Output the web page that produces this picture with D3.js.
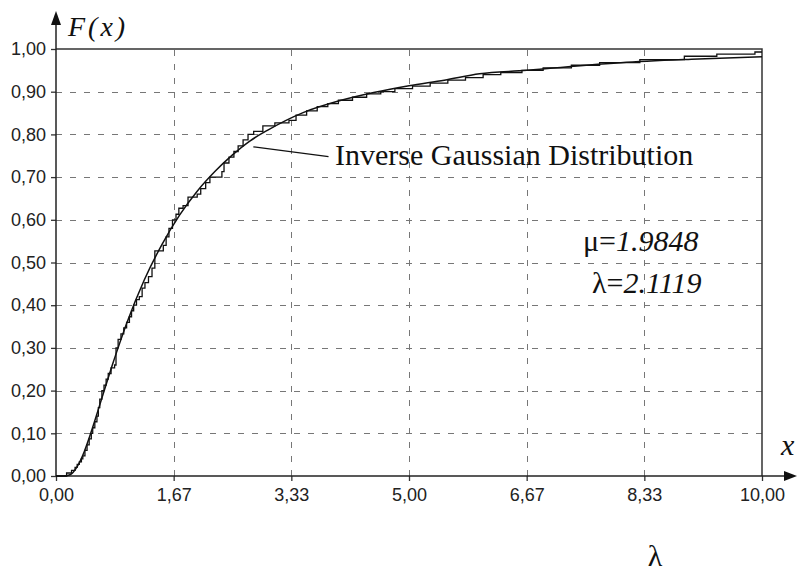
<!DOCTYPE html>
<html>
<head>
<meta charset="utf-8">
<script src="https://cdn.jsdelivr.net/npm/d3@7"></script>
<style>
  body { margin: 0; background: #fff; }
  svg { display: block; }
</style>
</head>
<body>
<svg width="798" height="578"></svg>
<script>
// fitted inverse gaussian cdf
var fitX = [0, 0.1, 0.2, 0.3, 0.4, 0.5, 0.6, 0.7, 0.8, 0.9, 1.0, 1.25, 1.5, 1.75, 2.0, 2.25, 2.5, 2.75, 3.0, 3.5, 4.0, 4.5, 5.0, 5.5, 6.0, 6.67, 7.0, 8.0, 9.0, 10.0];
var fitF = [0, 0.000, 0.003, 0.022, 0.057, 0.104, 0.156, 0.209, 0.261, 0.310, 0.357, 0.459, 0.542, 0.611, 0.667, 0.713, 0.752, 0.785, 0.810, 0.851, 0.878, 0.898, 0.914, 0.927, 0.942, 0.950, 0.955, 0.968, 0.976, 0.982];

// empirical cdf: where it jumps and the level after the jump
var stepX = [0.15, 0.22, 0.27, 0.30, 0.33, 0.36, 0.38, 0.41, 0.44, 0.47, 0.50, 0.52, 0.55, 0.58, 0.60, 0.62, 0.65, 0.68, 0.71, 0.74, 0.78, 0.83, 0.85, 0.88, 0.92, 0.96, 1.00, 1.04, 1.07, 1.10, 1.14, 1.18, 1.22, 1.26, 1.31, 1.36, 1.40, 1.52, 1.56, 1.60, 1.65, 1.70, 1.74, 1.80, 1.87, 2.00, 2.05, 2.12, 2.18, 2.35, 2.38, 2.45, 2.52, 2.58, 2.65, 2.72, 2.80, 2.93, 3.10, 3.30, 3.40, 3.55, 3.70, 3.85, 4.00, 4.20, 4.40, 4.60, 4.80, 5.05, 5.30, 5.55, 5.80, 6.05, 6.30, 6.60, 6.90, 7.30, 7.70, 8.27, 8.90, 9.36, 9.90];
var stepF = [0.007, 0.013, 0.020, 0.027, 0.033, 0.040, 0.047, 0.060, 0.073, 0.087, 0.100, 0.113, 0.127, 0.140, 0.160, 0.180, 0.200, 0.213, 0.227, 0.240, 0.253, 0.260, 0.300, 0.320, 0.333, 0.347, 0.360, 0.373, 0.387, 0.400, 0.413, 0.420, 0.440, 0.453, 0.467, 0.487, 0.527, 0.540, 0.560, 0.580, 0.600, 0.613, 0.627, 0.633, 0.653, 0.660, 0.673, 0.687, 0.700, 0.713, 0.733, 0.747, 0.760, 0.773, 0.787, 0.800, 0.807, 0.820, 0.827, 0.833, 0.845, 0.855, 0.865, 0.872, 0.880, 0.887, 0.895, 0.900, 0.907, 0.913, 0.920, 0.927, 0.933, 0.940, 0.945, 0.950, 0.956, 0.962, 0.968, 0.975, 0.983, 0.988, 0.993];

var xTicks = [0, 1.6667, 3.3333, 5, 6.6667, 8.3333, 10];
var yTicks = [0, 0.1, 0.2, 0.3, 0.4, 0.5, 0.6, 0.7, 0.8, 0.9, 1.0];

var svg = d3.select("svg");

var x = d3.scaleLinear().domain([0, 10]).range([56, 762]);
var y = d3.scaleLinear().domain([0, 1]).range([476, 49]);

// decimal comma like the original
var fmt = d3.formatLocale({decimal: ",", thousands: ".", grouping: [3], currency: ["", ""]}).format(".2f");

var tickFont = "'Liberation Sans', Arial, sans-serif";
var serif = "'Liberation Serif', 'Times New Roman', serif";

// dashed grid
svg.append("g").selectAll("line")
  .data(yTicks.filter(function(d) { return d > 0 && d < 1; }))
  .join("line")
  .attr("x1", x(0)).attr("x2", x(10))
  .attr("y1", function(d) { return Math.round(y(d)) + 0.5; })
  .attr("y2", function(d) { return Math.round(y(d)) + 0.5; })
  .attr("stroke", "#777").attr("stroke-width", 1).attr("stroke-dasharray", "6,8");

svg.append("g").selectAll("line")
  .data(xTicks.filter(function(d) { return d > 0 && d < 10; }))
  .join("line")
  .attr("y1", y(0)).attr("y2", y(1))
  .attr("x1", function(d) { return Math.round(x(d)) + 0.5; })
  .attr("x2", function(d) { return Math.round(x(d)) + 0.5; })
  .attr("stroke", "#777").attr("stroke-width", 1).attr("stroke-dasharray", "6,8");

// top and right frame
svg.append("path")
  .attr("d", "M" + x(0) + "," + y(1) + "H" + x(10) + "V" + y(0))
  .attr("fill", "none").attr("stroke", "#333").attr("stroke-width", 1.5);

// axes
var xAxis = svg.append("g")
  .attr("transform", "translate(0," + y(0) + ")")
  .call(d3.axisBottom(x).tickValues(xTicks).tickFormat(fmt).tickSize(5).tickSizeOuter(0).tickPadding(7));
var yAxis = svg.append("g")
  .attr("transform", "translate(" + x(0) + ",0)")
  .call(d3.axisLeft(y).tickValues(yTicks).tickFormat(fmt).tickSize(5).tickSizeOuter(0).tickPadding(5));

[xAxis, yAxis].forEach(function(g) {
  g.select(".domain").remove();
  g.selectAll(".tick line").attr("stroke", "#333").attr("stroke-width", 1.3);
  g.selectAll(".tick text").attr("fill", "#222").style("font-family", tickFont).style("font-size", "18px");
});

// axis lines with arrows
svg.append("line")
  .attr("x1", x(0)).attr("x2", 786).attr("y1", y(0)).attr("y2", y(0))
  .attr("stroke", "#222").attr("stroke-width", 1.5);
svg.append("path")
  .attr("d", "M797," + y(0) + "L784," + (y(0) - 5) + "L784," + (y(0) + 5) + "Z")
  .attr("fill", "#111");
svg.append("line")
  .attr("x1", x(0)).attr("x2", x(0)).attr("y1", y(0)).attr("y2", 22)
  .attr("stroke", "#222").attr("stroke-width", 1.5);
svg.append("path")
  .attr("d", "M" + x(0) + ",11L" + (x(0) - 5) + ",25L" + (x(0) + 5) + ",25Z")
  .attr("fill", "#111");

// fitted curve
var fitLine = d3.line()
  .x(function(d, i) { return x(fitX[i]); })
  .y(function(d) { return y(d); })
  .curve(d3.curveMonotoneX);
svg.append("path")
  .attr("d", fitLine(fitF))
  .attr("fill", "none").attr("stroke", "#111").attr("stroke-width", 1.5);

// empirical step function
var pts = [[0, 0]];
stepX.forEach(function(v, i) { pts.push([v, stepF[i]]); });
pts.push([10, stepF[stepF.length - 1]]);
var stepLine = d3.line()
  .x(function(d) { return x(d[0]); })
  .y(function(d) { return y(d[1]); })
  .curve(d3.curveStepAfter);
svg.append("path")
  .attr("d", stepLine(pts))
  .attr("fill", "none").attr("stroke", "#111").attr("stroke-width", 1.3);

// label with leader line
svg.append("line")
  .attr("x1", x(2.795)).attr("y1", y(0.771))
  .attr("x2", x(3.86)).attr("y2", y(0.748))
  .attr("stroke", "#111").attr("stroke-width", 1.3);
svg.append("text")
  .attr("x", 335).attr("y", 165)
  .style("font-family", serif).style("font-size", "30px").attr("fill", "#111")
  .text("Inverse Gaussian Distribution");

// parameters
var mu = svg.append("text").attr("x", 583).attr("y", 251)
  .style("font-family", serif).style("font-size", "30px").attr("fill", "#111");
mu.append("tspan").text("μ=");
mu.append("tspan").style("font-style", "italic").text("1.9848");
var lam = svg.append("text").attr("x", 592).attr("y", 293)
  .style("font-family", serif).style("font-size", "30px").attr("fill", "#111");
lam.append("tspan").text("λ=");
lam.append("tspan").style("font-style", "italic").text("2.1119");

// axis names
svg.append("text").attr("x", 68).attr("y", 36)
  .style("font-family", serif).style("font-size", "28px").style("font-style", "italic")
  .style("letter-spacing", "3px").attr("fill", "#111")
  .text("F(x)");
svg.append("text").attr("x", 781).attr("y", 455)
  .style("font-family", serif).style("font-size", "30px").style("font-style", "italic")
  .attr("fill", "#111")
  .text("x");

// stray lambda under the chart
svg.append("text").attr("x", 655).attr("y", 566).attr("text-anchor", "middle")
  .style("font-family", serif).style("font-size", "30px").attr("fill", "#111")
  .text("λ");
</script>
</body>
</html>
